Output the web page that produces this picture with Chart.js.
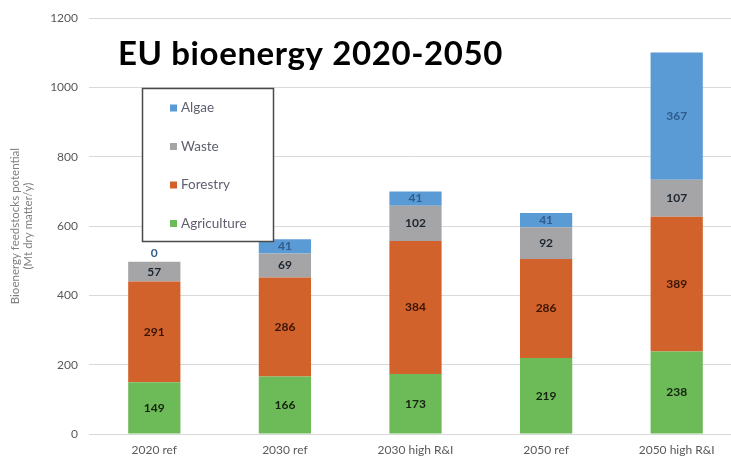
<!DOCTYPE html>
<html>
<head>
<meta charset="utf-8">
<title>EU bioenergy 2020-2050</title>
<script src="https://cdn.jsdelivr.net/npm/chart.js@4/dist/chart.umd.min.js"></script>
<style>
  html, body { margin: 0; padding: 0; background: #fff; overflow: hidden; }
  #wrap { width: 745px; height: 463px; }
</style>
</head>
<body>
<div id="wrap"><canvas id="bioChart" width="745" height="463"></canvas></div>
<script>
  // scenarios on the x axis
  const scenarios = ['2020 ref', '2030 ref', '2030 high R&I', '2050 ref', '2050 high R&I'];

  // feedstock potential, Mt dry matter per year
  const agriculture = [149, 166, 173, 219, 238];
  const forestry = [291, 286, 384, 286, 389];
  const waste = [57, 69, 102, 92, 107];
  const algae = [0, 41, 41, 41, 367];

  const yTicks = [0, 200, 400, 600, 800, 1000, 1200];

  const FONT = 'Lato, "Open Sans", sans-serif';

  // numbers written in the middle of every bar segment
  const segmentLabels = {
    id: 'segmentLabels',
    afterDatasetsDraw(chart) {
      const ctx = chart.ctx;
      ctx.save();
      ctx.font = 'bold 12px ' + FONT;
      ctx.textAlign = 'center';
      chart.data.datasets.forEach((ds, i) => {
        const meta = chart.getDatasetMeta(i);
        meta.data.forEach((bar, j) => {
          const v = ds.data[j];
          ctx.fillStyle = ds.labelColor;
          if (v === 0) {
            ctx.textBaseline = 'bottom';
            ctx.fillText(v, bar.x, bar.y - 3);
          } else {
            ctx.textBaseline = 'middle';
            ctx.fillText(v, bar.x, (bar.y + bar.base) / 2);
          }
        });
      });
      ctx.restore();
    }
  };

  // boxed legend inside the plot and the big heading
  const overlay = {
    id: 'overlay',
    afterDraw(chart) {
      const ctx = chart.ctx;
      ctx.save();

      ctx.fillStyle = '#000';
      ctx.font = 'bold 33px ' + FONT;
      ctx.letterSpacing = '0.6px';
      ctx.textAlign = 'left';
      ctx.textBaseline = 'alphabetic';
      ctx.fillText('EU bioenergy 2020-2050', 118, 65);
      ctx.letterSpacing = '0px';

      const box = { x: 142.5, y: 88.5, w: 131, h: 153 };
      ctx.fillStyle = '#fff';
      ctx.fillRect(box.x, box.y, box.w, box.h);
      ctx.strokeStyle = '#4a4a4a';
      ctx.lineWidth = 1.5;
      ctx.strokeRect(box.x, box.y, box.w, box.h);

      ctx.font = '13.5px ' + FONT;
      ctx.textBaseline = 'middle';
      const order = chart.data.datasets.slice().reverse();
      order.forEach((ds, k) => {
        const cy = 108 + k * 38.5;
        ctx.fillStyle = ds.backgroundColor;
        ctx.fillRect(170, cy - 3.5, 7, 7);
        ctx.fillStyle = '#5f6070';
        ctx.fillText(ds.label, 181, cy);
      });
      ctx.restore();
    }
  };

  new Chart(document.getElementById('bioChart'), {
    type: 'bar',
    data: {
      labels: scenarios,
      datasets: [
        { label: 'Agriculture', data: agriculture, backgroundColor: '#6cbb58', labelColor: '#15230e' },
        { label: 'Forestry', data: forestry, backgroundColor: '#d2622b', labelColor: '#3a1506' },
        { label: 'Waste', data: waste, backgroundColor: '#a5a5a7', labelColor: '#1c2530' },
        { label: 'Algae', data: algae, backgroundColor: '#5b9bd5', labelColor: '#2f5c8c' }
      ]
    },
    options: {
      responsive: false,
      animation: false,
      layout: { padding: { top: 16, right: 3, left: 0, bottom: 0 } },
      datasets: { bar: { categoryPercentage: 1, barPercentage: 0.4 } },
      plugins: {
        legend: { display: false },
        tooltip: { enabled: false },
        title: { display: false }
      },
      scales: {
        x: {
          stacked: true,
          grid: { display: false, drawTicks: false },
          border: { color: '#d9d9d9' },
          ticks: { color: '#595959', font: { family: FONT, size: 12 }, padding: 9 },
          afterFit(scale) { scale.height = 29; }
        },
        y: {
          stacked: true,
          min: 0,
          max: 1200,
          afterBuildTicks(scale) { scale.ticks = yTicks.map(v => ({ value: v })); },
          grid: { color: '#d9d9d9', drawTicks: false },
          border: { display: false },
          ticks: {
            color: '#595959',
            font: { family: FONT, size: 12 },
            padding: 11,
            callback: v => String(v)
          },
          title: {
            display: true,
            text: ['Bioenergy feedstocks potential', '(Mt dry matter/y)'],
            color: '#7f7f7f',
            font: { family: FONT, size: 11.5 },
            padding: { top: 8, bottom: 0 }
          },
          afterFit(scale) { scale.width = 89; }
        }
      }
    },
    plugins: [segmentLabels, overlay]
  });
</script>
</body>
</html>
